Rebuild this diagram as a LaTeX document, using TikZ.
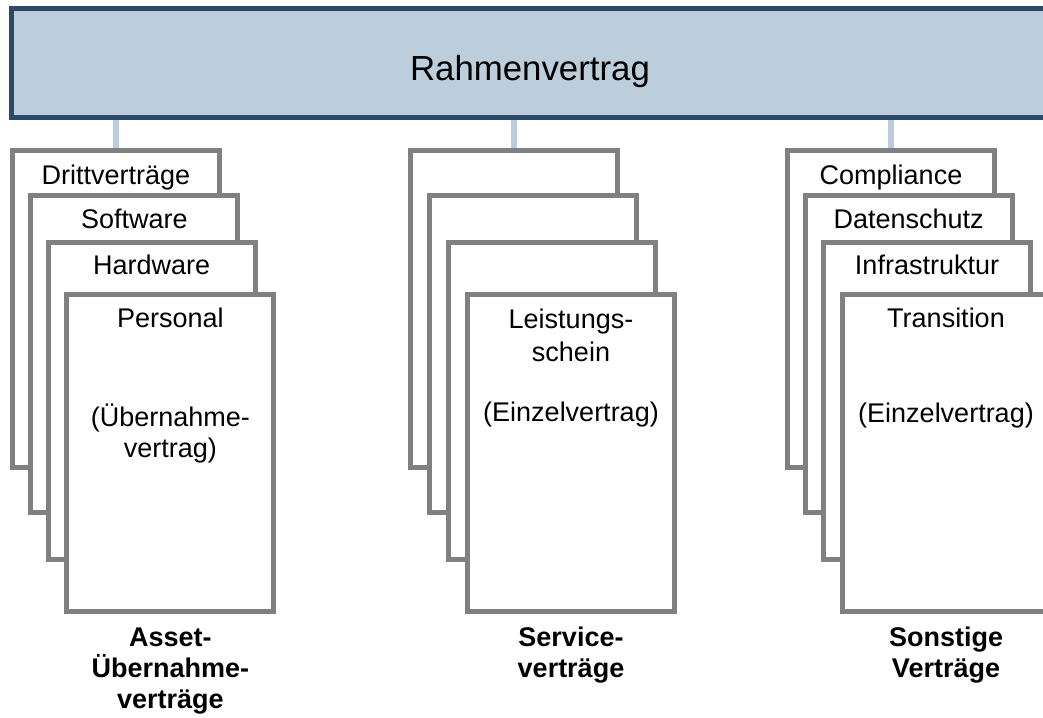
\documentclass[tikz,border=0pt]{standalone}
\usepackage{fontspec}
\setmainfont{Liberation Sans}
\definecolor{barfill}{RGB}{188,205,220}
\definecolor{barline}{RGB}{46,72,104}
\definecolor{sheetline}{RGB}{128,128,128}
\definecolor{linkcol}{RGB}{186,205,224}
\begin{document}
\begin{tikzpicture}[x=1pt,y=-1pt,
  frame/.style={draw=barline, fill=barfill, line width=5pt, minimum width=1046pt, minimum height=109pt, inner sep=0pt},
  sheet/.style={draw=sheetline, fill=white, line width=5pt, minimum width=207pt, minimum height=317pt, inner sep=0pt},
  link/.style={draw=linkcol, line width=6pt},
  txt/.style={font=\fontsize{27}{31}\selectfont, anchor=base, inner sep=0pt},
  bigtxt/.style={font=\fontsize{34.8}{40}\selectfont, anchor=base, inner sep=0pt},
  captxt/.style={font=\bfseries\fontsize{27}{31}\selectfont, anchor=base, inner sep=0pt}]
\useasboundingbox (0,0) rectangle (1043,717);

% framework contract bar (runs past the right edge)
\node[frame] (rv) at (534.5,63) {};
\node[bigtxt] (rvtxt) at (530,80) {Rahmenvertrag};

% stacked contract sheets, back to front
\node[sheet] (A1) at (116,308.5) {};
\node[sheet] (A2) at (134.3,353.5) {};
\node[sheet] (A3) at (151.7,400.5) {};
\node[sheet] (A4) at (170.3,453) {};

\node[sheet] (B1) at (514.3,308.5) {};
\node[sheet] (B2) at (532.7,353.5) {};
\node[sheet] (B3) at (551.7,400.5) {};
\node[sheet] (B4) at (571,453) {};

\node[sheet] (C1) at (891,308.5) {};
\node[sheet] (C2) at (908.7,353.5) {};
\node[sheet] (C3) at (927,400.5) {};
\node[sheet] (C4) at (946,453) {};

% links from the bar to each stack
\draw[link] (rv.south -| A1.north) -- (A1.north);
\draw[link] (rv.south -| B1.north) -- (B1.north);
\draw[link] (rv.south -| C1.north) -- (C1.north);

% sheet titles
\node[txt] (a1t) at (116,184) {Drittverträge};
\node[txt] (a2t) at (134.3,228) {Software};
\node[txt] (a3t) at (151.7,274) {Hardware};
\node[txt] (a4t) at (170.3,327) {Personal};
\node[txt] (a4b) at (170.3,426) {(Übernahme-};
\node[txt] (a4c) at (170.3,457) {vertrag)};

\node[txt] (b4t) at (571,328) {Leistungs-};
\node[txt] (b4u) at (571,361) {schein};
\node[txt] (b4b) at (571,421) {(Einzelvertrag)};

\node[txt] (c1t) at (891,184) {Compliance};
\node[txt] (c2t) at (908.7,228) {Datenschutz};
\node[txt] (c3t) at (927,274) {Infrastruktur};
\node[txt] (c4t) at (946,327) {Transition};
\node[txt] (c4b) at (946,422) {(Einzelvertrag)};

% captions under the stacks
\node[captxt] (ca1) at (170.3,646) {Asset-};
\node[captxt] (ca2) at (170.3,677) {Übernahme-};
\node[captxt] (ca3) at (170.3,708) {verträge};
\node[captxt] (cb1) at (571,646) {Service-};
\node[captxt] (cb2) at (571,677) {verträge};
\node[captxt] (cc1) at (946,646) {Sonstige};
\node[captxt] (cc2) at (946,677) {Verträge};
\end{tikzpicture}
\end{document}
